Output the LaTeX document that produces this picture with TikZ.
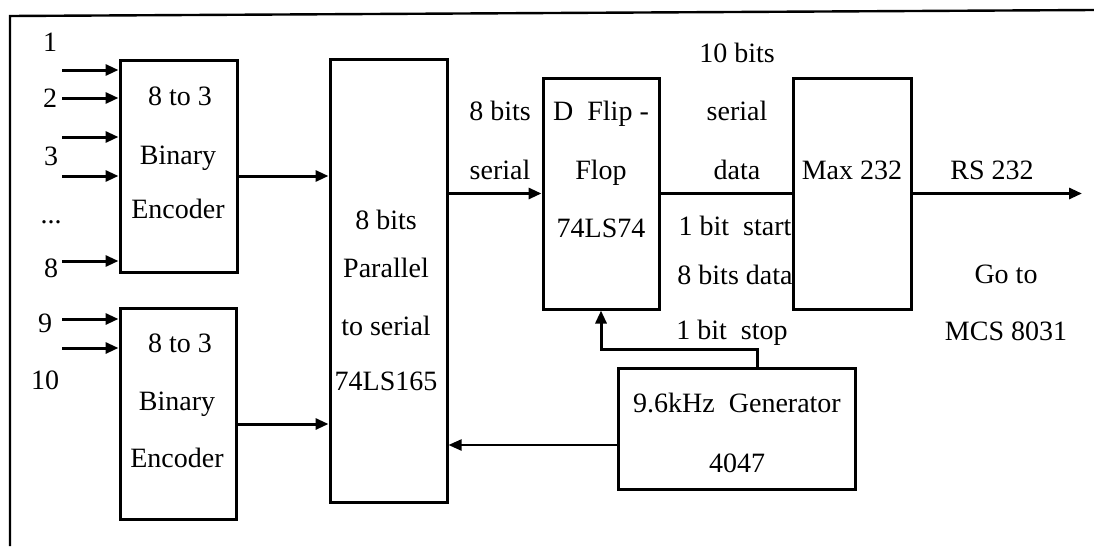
\documentclass[tikz,border=0pt]{standalone}
\usepackage{fontspec}
\setmainfont{Liberation Serif}
\usetikzlibrary{arrows.meta}
\begin{document}
\begin{tikzpicture}[x=1pt,y=-1pt,
  box/.style={draw, line width=3pt, inner sep=0pt},
  txt/.style={inner sep=0pt, font=\fontsize{28}{32}\selectfont, text height=0.7em, text depth=0.2em, yshift=-5pt},
  wire/.style={line width=3pt},
  arr/.style={wire, -{Triangle[length=13pt,width=11pt]}},
  frameline/.style={line width=2.4pt},
]
\useasboundingbox (0,0) rectangle (1094,546);
% frame
\coordinate (fr1) at (1094,10);
\coordinate (fr2) at (10,16);
\coordinate (fr3) at (10,546);
\draw[frameline] (fr1) -- (fr2) -- (fr3);

% boxes
\node[box, minimum width=117pt, minimum height=212pt] (enc1) at (178.5,166) {};
\node[box, minimum width=116pt, minimum height=211pt] (enc2) at (178,413.5) {};
\node[box, minimum width=117pt, minimum height=443pt] (par) at (388.5,280.5) {};
\node[box, minimum width=116pt, minimum height=231pt] (ff) at (601,193.5) {};
\node[box, minimum width=118pt, minimum height=231pt] (max) at (852,193.5) {};
\node[box, minimum width=237pt, minimum height=121pt] (gen) at (736.5,428.5) {};

% box texts
\node[txt] (e1a) at (180,98) {8 to 3};
\node[txt] (e1b) at (178,157) {Binary};
\node[txt] (e1c) at (178,211) {Encoder};
\node[txt] (e2a) at (180,345) {8 to 3};
\node[txt] (e2b) at (177,403) {Binary};
\node[txt] (e2c) at (177,460) {Encoder};
\node[txt] (pa) at (386,222) {8 bits};
\node[txt] (pb) at (386,270) {Parallel};
\node[txt] (pc) at (386,328) {to serial};
\node[txt] (pd) at (386,383) {74LS165};
\node[txt] (fa) at (601,113) {D~ Flip -};
\node[txt] (fb) at (601,172) {Flop};
\node[txt] (fc) at (601,230) {74LS74};
\node[txt] (ma) at (852,172) {Max 232};
\node[txt] (ga) at (737,405) {9.6kHz~ Generator};
\node[txt] (gb) at (737,465) {4047};

% input labels
\node[txt] (l1) at (50,44) {1};
\node[txt] (l2) at (50,100) {2};
\node[txt] (l3) at (51,158) {3};
\node[txt] (ld) at (51,216) {...};
\node[txt] (l8) at (51,270) {8};
\node[txt] (l9) at (45,325) {9};
\node[txt] (l10) at (45,382) {10};

% other labels
\node[txt] (s1) at (500,113) {8 bits};
\node[txt] (s2) at (500,172) {serial};
\node[txt] (t1) at (737,55) {10 bits};
\node[txt] (t2) at (737,113) {serial};
\node[txt] (t3) at (737,172) {data};
\node[txt] (t4) at (735,228) {1 bit~ start};
\node[txt] (t5) at (735,277) {8 bits data};
\node[txt] (t6) at (732,332) {1 bit~ stop};
\node[txt] (r1) at (992,172) {RS 232};
\node[txt] (r2) at (1006,276) {Go to};
\node[txt] (r3) at (1006,333) {MCS 8031};

% inputs
\foreach \n/\y in {a/70,b/98,c/137,d/176,e/261}{
  \coordinate (in\n) at (62,\y);
  \draw[arr] (in\n) -- (in\n -| enc1.west);
}
\foreach \n/\y in {f/319,g/348}{
  \coordinate (in\n) at (62,\y);
  \draw[arr] (in\n) -- (in\n -| enc2.west);
}

% connections
\coordinate (e1o) at (0,176);
\coordinate (e2o) at (0,424);
\draw[arr] (enc1.east |- e1o) -- (par.west |- e1o);
\draw[arr] (enc2.east |- e2o) -- (par.west |- e2o);
\draw[arr] (par.east |- ff.west) -- (ff.west);
\draw[wire] (ff.east) -- (max.west);
\coordinate (rsout) at (1082,193.5);
\draw[arr] (max.east) -- (rsout);
\coordinate (clk) at (757,349);
\draw[arr] (gen.north -| clk) -- (clk) -| (ff.south);
\coordinate (gp) at (0,445);
\draw[arr, line width=2.2pt] (gen.west |- gp) -- (par.east |- gp);
\end{tikzpicture}
\end{document}
